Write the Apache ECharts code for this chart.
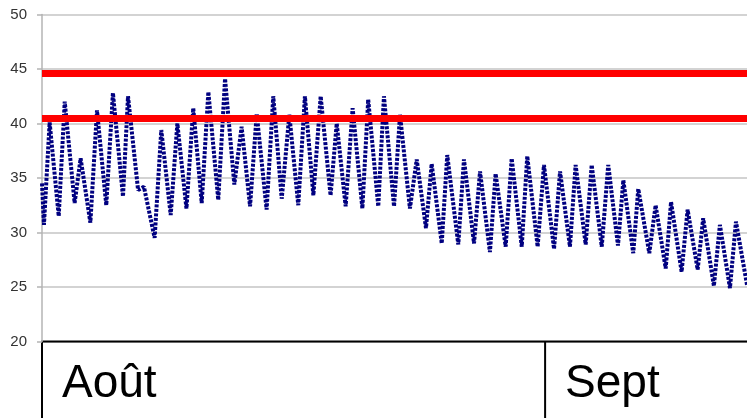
<!DOCTYPE html>
<html>
<head>
<meta charset="utf-8">
<script src="https://cdn.jsdelivr.net/npm/echarts@6/dist/echarts.min.js"></script>
<style>
  html, body { margin: 0; padding: 0; background: #fff; }
  #chart_1 { width: 747px; height: 418px; }
</style>
</head>
<body>
<div id="chart_1"></div>
<script>
// days since 1 Aug (00:00) of each daily max / min
var days = [
  0.00, 0.12, 0.47, 1.03, 1.40, 2.01, 2.38, 2.98, 3.39, 3.96,
  4.37, 4.99, 5.30, 5.92, 6.28, 6.94, 7.35, 7.93, 8.34, 8.90,
  9.32, 9.84, 10.25, 10.86, 11.28, 11.85, 12.30, 12.82, 13.23, 13.84,
  14.25, 14.77, 15.24, 15.79, 16.20, 16.72, 17.17, 17.78, 18.16, 18.71,
  19.14, 19.74, 20.10, 20.72, 21.07, 21.69, 22.06, 22.67, 23.09, 23.66,
  24.01, 24.63, 24.97, 25.65, 26.00, 26.62, 26.99, 27.60, 27.95, 28.57,
  28.94, 29.56, 29.90, 30.54, 30.93, 31.55, 31.92, 32.53, 32.88, 33.50,
  33.87, 34.49, 34.89, 35.49, 35.82, 36.43, 36.74, 37.42, 37.81, 38.43,
  38.76, 39.41, 39.78, 40.40, 40.74, 41.40, 41.77, 42.39, 42.76, 43.44
];
var temps = [
  34.5, 30.7, 40.1, 31.5, 42.0, 32.7, 36.8, 30.9, 41.2, 32.5,
  42.8, 33.3, 42.5, 33.9, 34.2, 29.5, 39.4, 31.6, 40.0, 32.2,
  41.4, 32.7, 42.9, 33.0, 44.1, 34.4, 39.7, 32.4, 40.9, 32.1,
  42.5, 33.1, 40.8, 32.5, 42.5, 33.4, 42.5, 33.4, 40.0, 32.4,
  41.4, 32.2, 42.2, 32.4, 42.5, 32.4, 40.8, 32.2, 36.7, 30.4,
  36.3, 29.0, 37.1, 28.9, 36.7, 29.0, 35.6, 28.2, 35.4, 28.7,
  36.8, 28.7, 37.0, 28.7, 36.2, 28.5, 35.6, 28.7, 36.2, 28.9,
  36.2, 28.7, 36.2, 28.8, 34.8, 28.1, 34.0, 28.1, 32.5, 26.7,
  32.8, 26.4, 32.1, 26.6, 31.3, 25.1, 30.7, 24.9, 31.0, 25.2
];
var limits = [44.6, 40.5];
var months = ['Août', 'Sept'];
var monthStart = [0, 31];
var yTicks = { min: 20, max: 50, interval: 5 };

var points = days.map(function (d, i) { return [d, temps[i]]; });

var myChart_1 = echarts.init(document.getElementById('chart_1'));

myChart_1.setOption({
  animation: false,
  grid: { left: 42, right: 0, top: 14.5, bottom: 76.5 },
  xAxis: {
    type: 'value',
    min: 0,
    max: days[days.length - 1],
    show: false
  },
  yAxis: {
    type: 'value',
    min: yTicks.min,
    max: yTicks.max,
    interval: yTicks.interval,
    axisLine: { show: true, lineStyle: { color: '#b4b4b4', width: 1.5 } },
    axisTick: { show: true, length: 5, lineStyle: { color: '#b4b4b4', width: 1.5 } },
    axisLabel: { color: '#333', fontSize: 15, fontFamily: 'Liberation Sans', margin: 15 },
    splitLine: { lineStyle: { color: '#c4c4c4', width: 1.5 } }
  },
  series: [{
    type: 'line',
    data: points,
    symbol: 'none',
    lineStyle: { color: '#000080', width: 4, type: [3, 1.5] },
    markLine: {
      silent: true,
      symbol: 'none',
      label: { show: false },
      lineStyle: { color: '#ff0000', width: 7, type: 'solid' },
      data: limits.map(function (v) { return { yAxis: v }; })
    }
  }]
});

// month table under the plot
var yBase = myChart_1.convertToPixel({ yAxisIndex: 0 }, yTicks.min);
var graphics = [{
  type: 'line',
  shape: { x1: 41, y1: yBase, x2: 747, y2: yBase },
  style: { stroke: '#000', lineWidth: 2 }
}];
monthStart.forEach(function (d, i) {
  var x = myChart_1.convertToPixel({ xAxisIndex: 0 }, d);
  graphics.push({
    type: 'line',
    shape: { x1: x, y1: yBase, x2: x, y2: 418 },
    style: { stroke: '#000', lineWidth: 2 }
  });
  graphics.push({
    type: 'text',
    x: x + 20,
    y: 384,
    style: {
      text: months[i],
      font: '46px "Liberation Sans"',
      fill: '#000',
      verticalAlign: 'middle'
    }
  });
});
myChart_1.setOption({ graphic: graphics });
</script>
</body>
</html>
